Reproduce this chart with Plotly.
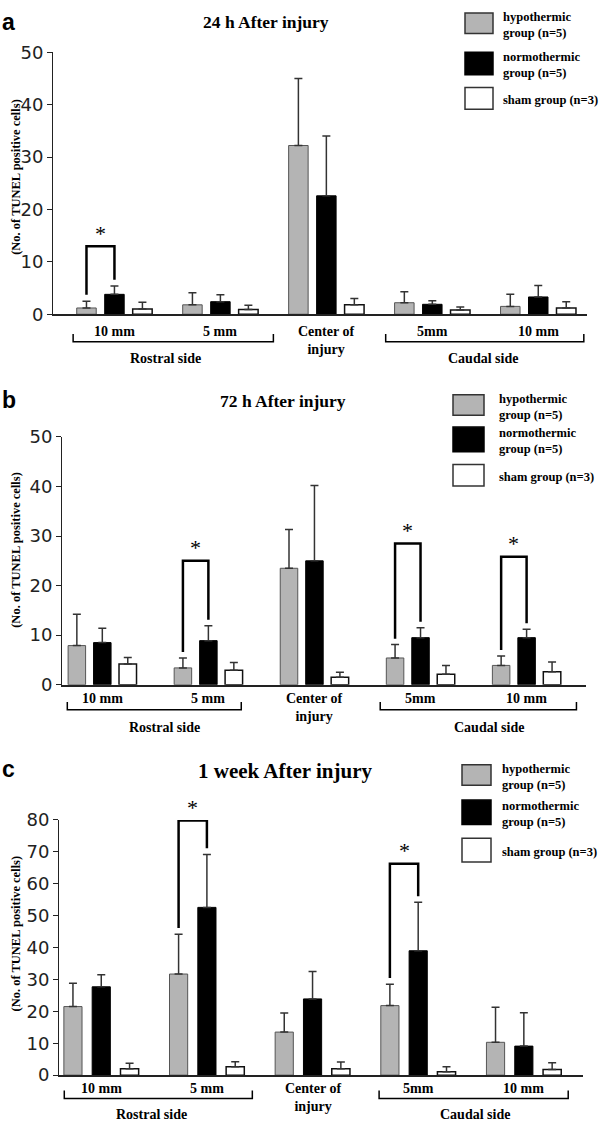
import plotly.graph_objects as go

# sites along the cord: rostral 10 mm, rostral 5 mm, center, caudal 5 mm, caudal 10 mm
sites = [0, 1, 2, 3, 4]
site_labels = ['10 mm', '5 mm', 'Center of<br>injury', '5mm', '10 mm']
side_labels = ['Rostral side', 'Caudal side']
group_labels = ['hypothermic<br>group (n=5)', 'normothermic<br>group (n=5)', 'sham group (n=3)']
titles = ['24 h After injury', '72 h After injury', '1 week After injury']
panel_letters = ['a', 'b', 'c']

hypo_24h = [1.2, 1.8, 32.2, 2.2, 1.5]
hypo_24h_sd = [1.3, 2.3, 12.8, 2.1, 2.3]
normo_24h = [3.8, 2.4, 22.6, 1.9, 3.3]
normo_24h_sd = [1.6, 1.3, 11.4, 0.7, 2.2]
sham_24h = [1.0, 0.9, 1.8, 0.8, 1.2]
sham_24h_sd = [1.3, 0.8, 1.2, 0.6, 1.2]

hypo_72h = [7.9, 3.4, 23.5, 5.4, 3.9]
hypo_72h_sd = [6.3, 2.0, 7.8, 2.7, 1.9]
normo_72h = [8.5, 8.9, 25.0, 9.5, 9.5]
normo_72h_sd = [2.9, 3.0, 15.2, 2.0, 1.7]
sham_72h = [4.2, 2.9, 1.5, 2.1, 2.6]
sham_72h_sd = [1.3, 1.6, 1.0, 1.8, 2.0]

hypo_1w = [21.5, 31.7, 13.5, 21.8, 10.3]
hypo_1w_sd = [7.3, 12.5, 6.0, 6.7, 11.0]
normo_1w = [27.7, 52.6, 23.9, 39.0, 9.1]
normo_1w_sd = [3.8, 16.6, 8.6, 15.2, 10.5]
sham_1w = [2.0, 2.6, 2.0, 1.1, 1.8]
sham_1w_sd = [1.7, 1.6, 2.1, 1.5, 2.1]

# significant pairs (site, bracket top)
sig_24h = [(0, 13.0)]
sig_72h = [(1, 25.0), (3, 28.5), (4, 25.8)]
sig_1w = [(1, 79.8), (3, 66.3)]

W, H = 600, 1130
def px(x):
    return x / W
def py(y):
    return 1 - y / H

SERIF = 'Liberation Serif'
GRAY = '#b4b4b4'

panels = [
    dict(data=(hypo_24h, hypo_24h_sd, normo_24h, normo_24h_sd, sham_24h, sham_24h_sd), sig=sig_24h,
         x0=53, x1=587, ybot=309, ytop=42, ymax=50, xr=[-0.58, 4.46], barw=0.184, slot=0.264,
         title_xy=(266, 11), title_size=17.5, letter_y=11, ytitle_y=169,
         leg_x=(465, 493), leg_y=[(2, 23), (42, 65), (78, 100)], leg_tx=501,
         lab_y=327, br_y=337, side_y=354,
         br_x=[(-0.39, 1.50), (2.56, 4.43)], side_x=[0.48, 3.48]),
    dict(data=(hypo_72h, hypo_72h_sd, normo_72h, normo_72h_sd, sham_72h, sham_72h_sd), sig=sig_72h,
         x0=62, x1=586, ybot=686.5, ytop=434, ymax=50, xr=[-0.38, 4.56], barw=0.165, slot=0.240,
         title_xy=(283, 397), title_size=17.5, letter_y=396, ytitle_y=549,
         leg_x=(453, 484), leg_y=[(391, 412), (424, 449), (462, 484)], leg_tx=497,
         lab_y=701, br_y=712, side_y=730,
         br_x=[(-0.33, 1.31), (2.62, 4.47)], side_x=[0.59, 3.65]),
    dict(data=(hypo_1w, hypo_1w_sd, normo_1w, normo_1w_sd, sham_1w, sham_1w_sd), sig=sig_1w,
         x0=59, x1=583, ybot=1084.3, ytop=824.3, ymax=80, xr=[-0.40, 4.56], barw=0.172, slot=0.268,
         title_xy=(285, 774), title_size=21, letter_y=772, ytitle_y=940,
         leg_x=(462, 491), leg_y=[(768, 789), (804, 829), (843, 867)], leg_tx=500,
         lab_y=1098, br_y=1108, side_y=1124,
         br_x=[(-0.35, 1.43), (2.63, 4.42)], side_x=[0.48, 3.54]),
]

fig = go.Figure()
shapes = []
annotations = []
layout = {}

for k, p in enumerate(panels):
    s = '' if k == 0 else str(k + 1)
    xa, ya = 'x' + s, 'y' + s
    hypo, hypo_sd, normo, normo_sd, sham, sham_sd = p['data']
    slot, w = p['slot'], p['barw']
    styles = [(hypo, hypo_sd, GRAY, '#555555', 1),
              (normo, normo_sd, 'black', 'black', 1),
              (sham, sham_sd, 'white', '#111111', 1.5)]
    for g, (vals, sd, fill, edge, lw) in enumerate(styles):
        fig.add_trace(go.Bar(
            x=sites, y=vals, xaxis=xa, yaxis=ya, showlegend=False, hoverinfo='skip',
            width=w, offset=(g - 1) * slot - w / 2,
            marker=dict(color=fill, line=dict(color=edge, width=lw)),
            error_y=dict(type='data', symmetric=False, array=sd, arrayminus=[0] * len(sd),
                         color='#333333', thickness=1.5, width=4),
        ))
    gap = 0.024 * p['ymax']
    for site, top in p['sig']:
        left = hypo[site] + hypo_sd[site] + gap
        right = normo[site] + normo_sd[site] + gap
        fig.add_trace(go.Scatter(
            x=[site - slot, site - slot, site, site], y=[left, top, top, right],
            xaxis=xa, yaxis=ya, mode='lines', cliponaxis=False, showlegend=False, hoverinfo='skip',
            line=dict(color='black', width=2.5),
        ))
        annotations.append(dict(x=site - slot / 2, y=top, xref=xa, yref=ya, text='*',
                                showarrow=False, yshift=13, yanchor='middle',
                                font=dict(family=SERIF, size=22, color='black')))

    layout['xaxis' + s] = dict(domain=[px(p['x0']), px(p['x1'])], anchor=ya, range=p['xr'],
                               showline=True, linecolor='#222', linewidth=1.5, showticklabels=False,
                               ticks='', showgrid=False, zeroline=False, fixedrange=True)
    layout['yaxis' + s] = dict(domain=[py(p['ybot']), py(p['ytop'])], anchor=xa,
                               range=[0, p['ymax']], dtick=10, tick0=0,
                               showline=True, linecolor='#222', linewidth=1, ticks='outside',
                               ticklen=5, tickcolor='#222', showgrid=False, zeroline=False,
                               tickfont=dict(family='DejaVu Sans', size=18, color='#222'))

    # title and panel letter
    annotations.append(dict(x=px(p['title_xy'][0]), y=py(p['title_xy'][1]), xref='paper', yref='paper',
                            yanchor='middle', text='<b>' + titles[k] + '</b>', showarrow=False,
                            font=dict(family=SERIF, size=p['title_size'], color='black')))
    annotations.append(dict(x=px(0), y=py(p['letter_y']), xref='paper', yref='paper',
                            xanchor='left', yanchor='middle',
                            text='<b>' + panel_letters[k] + '</b>', showarrow=False,
                            font=dict(family='Liberation Sans', size=23, color='black')))
    # y axis title
    annotations.append(dict(x=px(7), y=py(p['ytitle_y']), xref='paper', yref='paper', textangle=-90,
                            yanchor='middle', text='<b>(No. of TUNEL positive cells)</b>', showarrow=False,
                            font=dict(family=SERIF, size=12.5, color='black')))

    # legend boxes
    for g, (fill, edge) in enumerate([(GRAY, '#333'), ('black', 'black'), ('white', '#333')]):
        y0, y1 = p['leg_y'][g]
        shapes.append(dict(type='rect', xref='paper', yref='paper',
                           x0=px(p['leg_x'][0]), x1=px(p['leg_x'][1]), y0=py(y1), y1=py(y0),
                           fillcolor=fill, line=dict(color=edge, width=1.5)))
        annotations.append(dict(x=px(p['leg_tx']), y=py((y0 + y1) / 2 + 2), xref='paper', yref='paper',
                                xanchor='left', yanchor='middle', align='left',
                                text='<b>' + group_labels[g] + '</b>', showarrow=False,
                                font=dict(family=SERIF, size=12.5, color='black')))

    # site labels under axis
    for i, lab in enumerate(site_labels):
        yy = p['lab_y'] + (9 if i == 2 else 0)
        annotations.append(dict(x=sites[i], y=py(yy), xref=xa, yref='paper', yanchor='middle',
                                text='<b>' + lab + '</b>', showarrow=False,
                                font=dict(family=SERIF, size=14, color='black')))
    # side brackets
    for xs, sx, lab in zip(p['br_x'], p['side_x'], side_labels):
        by = p['br_y']
        shapes.append(dict(type='path', xref=xa, yref='paper',
                           path='M %f,%f L %f,%f L %f,%f L %f,%f' % (
                               xs[0], py(by - 8), xs[0], py(by), xs[1], py(by), xs[1], py(by - 8)),
                           line=dict(color='black', width=1.5)))
        annotations.append(dict(x=sx, y=py(p['side_y']), xref=xa, yref='paper',
                                yanchor='middle', text='<b>' + lab + '</b>', showarrow=False,
                                font=dict(family=SERIF, size=14, color='black')))

fig.update_layout(
    width=W, height=H, margin=dict(l=0, r=0, t=0, b=0),
    paper_bgcolor='white', plot_bgcolor='white',
    barmode='group',
    shapes=shapes, annotations=annotations, showlegend=False,
    **layout,
)

fig.write_html('out.html', config=dict(displayModeBar=False),
               post_script="document.body.style.margin='0';document.body.style.overflow='hidden';")
